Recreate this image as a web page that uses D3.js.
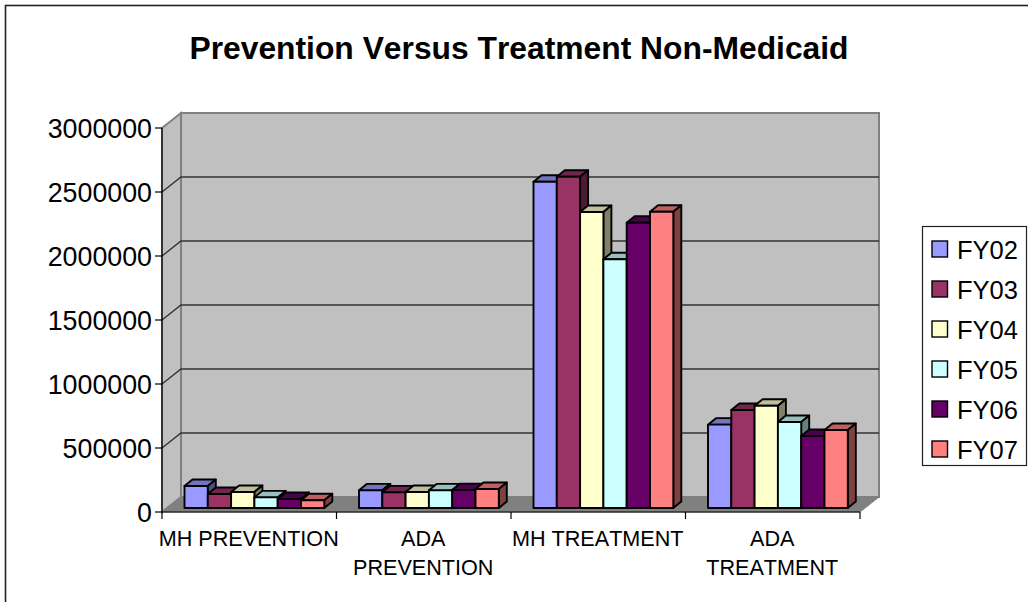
<!DOCTYPE html>
<html>
<head>
<meta charset="utf-8">
<script src="https://cdnjs.cloudflare.com/ajax/libs/d3/7.8.5/d3.min.js"></script>
<style>
html,body{margin:0;padding:0;background:#fff}
svg{display:block}
text{font-family:"Liberation Sans",Arial,sans-serif;fill:#000;font-kerning:none}
</style>
</head>
<body>
<svg id="chart" width="1028" height="602"></svg>
<script>
const titleText = "Prevention Versus Treatment Non-Medicaid";
const categories = ["MH PREVENTION", "ADA PREVENTION", "MH TREATMENT", "ADA TREATMENT"];
const categoryLines = [["MH PREVENTION"], ["ADA", "PREVENTION"], ["MH TREATMENT"], ["ADA", "TREATMENT"]];
const seriesNames = ["FY02", "FY03", "FY04", "FY05", "FY06", "FY07"];
const seriesColors = ["#9999FF", "#993366", "#FFFFCC", "#CCFFFF", "#660066", "#FF8080"];
const yTicks = [0, 500000, 1000000, 1500000, 2000000, 2500000, 3000000];

const fy02 = [172000, 138000, 2549000, 651000];
const fy03 = [109000, 122000, 2588000, 766000];
const fy04 = [125000, 125000, 2312000, 799000];
const fy05 = [83000, 138000, 1943000, 672000];
const fy06 = [70000, 140000, 2229000, 563000];
const fy07 = [60000, 148000, 2315000, 609000];
const seriesValues = [fy02, fy03, fy04, fy05, fy06, fy07];

const svg = d3.select("#chart");

// Oblique projection: the back wall sits up and to the right of the front plane.
const wallDx = 19, wallDy = -15;
const x = d3.scaleBand().domain(categories).range([162, 860]);
const y = d3.scaleLinear().domain([0, 3000000]).range([512, 128]);
const barWidth = 23.3;
const barX = d3.scaleBand().domain(seriesNames).range([22.5, 22.5 + barWidth * 6]);
const barBaseDy = -4;      // bars stand slightly behind the front edge of the floor
const depthDx = 8, depthDy = -6.5;

const poly = pts => pts.map(p => p.join(",")).join(" ");
const x0 = x.range()[0], x1 = x.range()[1];

// Chart frame, open on the right and bottom where it runs off the page
svg.append("rect").attr("x", 5.5).attr("y", 5.5).attr("width", 1100).attr("height", 700)
  .attr("fill", "#fff").attr("stroke", "#222").attr("stroke-width", 1.6);

// Back wall, side wall and floor
const wall = svg.append("g");
wall.append("polygon")
  .attr("points", poly([[x0 + wallDx, y(3000000) + wallDy], [x1 + wallDx, y(3000000) + wallDy], [x1 + wallDx, y(0) + wallDy], [x0 + wallDx, y(0) + wallDy]]))
  .attr("fill", "#C0C0C0").attr("stroke", "#808080").attr("stroke-width", 2);
wall.append("polygon")
  .attr("points", poly([[x0, y(3000000)], [x0 + wallDx, y(3000000) + wallDy], [x0 + wallDx, y(0) + wallDy], [x0, y(0)]]))
  .attr("fill", "#C0C0C0").attr("stroke", "#808080").attr("stroke-width", 2);
wall.append("polygon")
  .attr("points", poly([[x0, y(0)], [x0 + wallDx, y(0) + wallDy], [x1 + wallDx, y(0) + wallDy], [x1, y(0)]]))
  .attr("fill", "#808080").attr("stroke", "#808080").attr("stroke-width", 1);

// Gridlines run along the side wall and across the back wall
const grid = svg.append("g").attr("fill", "none").attr("stroke", "#333").attr("stroke-width", 1.4);
yTicks.slice(1, -1).forEach(t => {
  grid.append("polyline").attr("points", poly([[x0, y(t)], [x0 + wallDx, y(t) + wallDy], [x1 + wallDx, y(t) + wallDy]]));
});

// Bars, painted left to right so each front face covers its neighbour's side
const bars = svg.append("g").attr("stroke", "#000").attr("stroke-width", 1.9).attr("stroke-linejoin", "round");
categories.forEach((cat, ci) => {
  seriesNames.forEach((name, si) => {
    const v = seriesValues[si][ci];
    const color = d3.color(seriesColors[si]);
    const shade = k => d3.rgb(color.r * k, color.g * k, color.b * k).formatHex();
    const L = x(cat) + barX(name), R = L + barWidth;
    const B = y(0) + barBaseDy, T = y(v) + barBaseDy;
    bars.append("polygon").attr("points", poly([[L, T], [L + depthDx, T + depthDy], [R + depthDx, T + depthDy], [R, T]])).attr("fill", shade(0.75));
    bars.append("polygon").attr("points", poly([[R, T], [R + depthDx, T + depthDy], [R + depthDx, B + depthDy], [R, B]])).attr("fill", shade(0.5));
    bars.append("rect").attr("x", L).attr("y", T).attr("width", barWidth).attr("height", B - T).attr("fill", seriesColors[si]);
  });
});

// Value axis
const yAxis = svg.append("g").attr("stroke", "#000");
yAxis.append("line").attr("x1", x0).attr("x2", x0).attr("y1", y(3000000)).attr("y2", y(0)).attr("stroke-width", 1.2);
yTicks.forEach(t => {
  yAxis.append("line").attr("x1", x0 - 7).attr("x2", x0).attr("y1", y(t)).attr("y2", y(t)).attr("stroke-width", 1.2);
  svg.append("text").attr("x", x0 - 10).attr("y", y(t) + 10).attr("text-anchor", "end")
    .attr("font-size", 26.8).text(t);
});

// Category axis
const xAxis = svg.append("g").attr("stroke", "#000");
xAxis.append("line").attr("x1", x0).attr("x2", x1).attr("y1", y(0)).attr("y2", y(0)).attr("stroke-width", 1.2);
[...categories.map(c => x(c)), x1].forEach(px => {
  xAxis.append("line").attr("x1", px).attr("x2", px).attr("y1", y(0)).attr("y2", y(0) + 7).attr("stroke-width", 1.2);
});
categories.forEach((cat, ci) => {
  categoryLines[ci].forEach((line, li) => {
    svg.append("text").attr("x", x(cat) + x.bandwidth() / 2 - 0.5).attr("y", 546 + li * 29)
      .attr("text-anchor", "middle").attr("font-size", 21.6).text(line);
  });
});

// Title
svg.append("text").attr("x", 519).attr("y", 59).attr("text-anchor", "middle")
  .attr("font-size", 31.8).attr("font-weight", "bold").text(titleText);

// Legend
svg.append("rect").attr("x", 922.5).attr("y", 226.5).attr("width", 104).attr("height", 239)
  .attr("fill", "#fff").attr("stroke", "#222").attr("stroke-width", 1.2);
const legendY = d3.scalePoint().domain(seriesNames).range([249, 449]);
seriesNames.forEach((name, si) => {
  svg.append("rect").attr("x", 932).attr("y", legendY(name) - 8).attr("width", 15.5).attr("height", 16)
    .attr("fill", seriesColors[si]).attr("stroke", "#000").attr("stroke-width", 1.4);
  svg.append("text").attr("x", 957).attr("y", legendY(name) + 10).attr("font-size", 25.5).text(name);
});
</script>
</body>
</html>
